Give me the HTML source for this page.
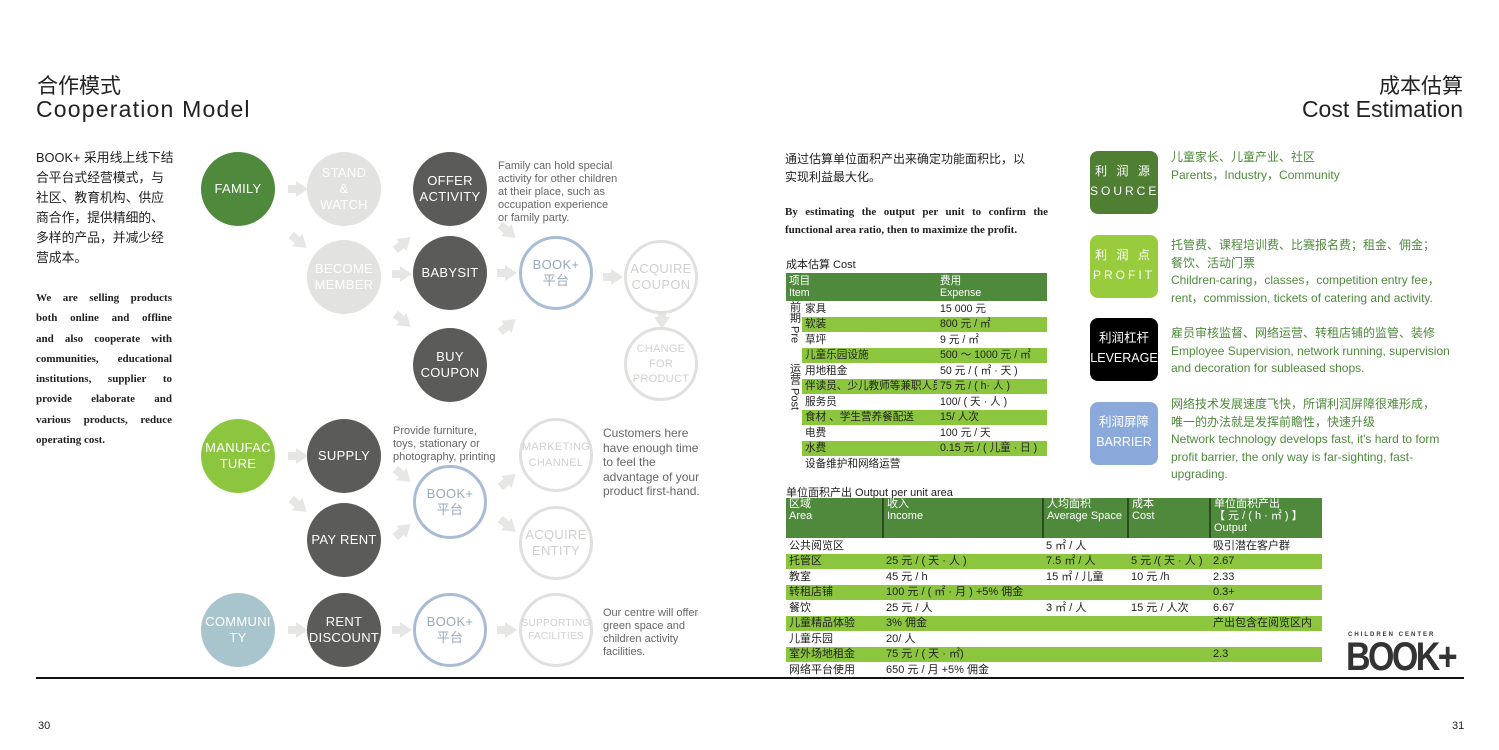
<!DOCTYPE html><html><head><meta charset="utf-8"><style>
*{margin:0;padding:0;box-sizing:border-box}
body{width:1499px;height:750px;background:#fff;position:relative;overflow:hidden;font-family:"Liberation Sans","Noto Sans CJK SC",sans-serif;color:#222}
.a{position:absolute}
.c{position:absolute;width:74px;height:74px;border-radius:50%;display:flex;align-items:center;justify-content:center;text-align:center;color:#fff;font-size:13px;line-height:16px;letter-spacing:.3px}
.dg{background:#5b5b59}.lg{background:#e2e2e0}.gr{background:#4f8a3c}.lgr{background:#8cc63f}.bl{background:#a8c4cc}
.bk{background:#fff;border:3px solid #a9bcd6;color:#9aa9bd}
.ol{background:#fff;border:3px solid #e0e0de;color:#d0d0ce}
.ar{position:absolute;width:0;height:0;border-top:8px solid transparent;border-bottom:8px solid transparent;border-left:12px solid #e6e6e4}
.ar:before{content:"";position:absolute;left:-20px;top:-4px;width:9px;height:8px;background:#e6e6e4}
.note{position:absolute;font-size:11px;line-height:13px;color:#666}
table{border-collapse:collapse;font-size:10.6px;table-layout:fixed}
td{padding:0 0 0 3px;height:15.5px;line-height:14px;vertical-align:middle;white-space:nowrap;overflow:hidden}
.g td.x{background:#8cc63f}
.h td{background:#4f8a3c;color:#fff;line-height:12px;vertical-align:top}
.bx{position:absolute;left:1090px;width:68px;height:63px;border-radius:8px;color:#fff;text-align:center;font-size:12px;line-height:20px;padding-top:10px;letter-spacing:1px;white-space:nowrap;overflow:hidden}
.tx{position:absolute;left:1171px;font-size:12px;line-height:17.5px;color:#4f8a3c}
.cn div{white-space:nowrap}
.en div{text-align:justify;text-align-last:justify;white-space:nowrap;height:20.3px}
.vt{writing-mode:vertical-rl;font-size:11px;line-height:15px;margin:0 auto;white-space:nowrap}
</style></head><body>
<div class="a" style="left:37px;top:70px;font-size:21px">合作模式</div>
<div class="a" style="left:36px;top:96px;font-size:23px;letter-spacing:1.2px">Cooperation Model</div>
<div class="a" style="right:36px;top:70px;font-size:21px">成本估算</div>
<div class="a" style="right:36px;top:96px;font-size:23px">Cost Estimation</div>
<div class="a cn" style="left:36px;top:148px;font-size:12.8px;line-height:20px"><div>BOOK+ 采用线上线下结</div><div>合平台式经营模式，与</div><div>社区、教育机构、供应</div><div>商合作，提供精细的、</div><div>多样的产品，并减少经</div><div>营成本。</div></div>
<div class="a en" style="left:36px;top:288px;width:136px;font-family:'Liberation Serif',serif;font-size:11px;line-height:20.3px;font-weight:bold"><div>We are selling products</div><div>both online and offline</div><div>and also cooperate with</div><div>communities, educational</div><div>institutions, supplier to</div><div>provide elaborate and</div><div>various products, reduce</div><div style="text-align-last:left">operating cost.</div></div>

<div class="ar" style="left:296px;top:181px"></div>
<div class="ar" style="left:296px;top:236px;transform:rotate(40deg)"></div>
<div class="ar" style="left:400px;top:233px;transform:rotate(-40deg)"></div>
<div class="ar" style="left:400px;top:266px"></div>
<div class="ar" style="left:400px;top:315px;transform:rotate(40deg)"></div>
<div class="ar" style="left:505px;top:226px;transform:rotate(40deg)"></div>
<div class="ar" style="left:505px;top:265px"></div>
<div class="ar" style="left:505px;top:315px;transform:rotate(-40deg)"></div>
<div class="ar" style="left:611px;top:269px"></div>
<div class="ar" style="left:656px;top:315px;transform:rotate(90deg)"></div>
<div class="ar" style="left:296px;top:448px"></div>
<div class="ar" style="left:296px;top:500px;transform:rotate(40deg)"></div>
<div class="ar" style="left:400px;top:470px;transform:rotate(40deg)"></div>
<div class="ar" style="left:400px;top:520px;transform:rotate(-40deg)"></div>
<div class="ar" style="left:505px;top:470px;transform:rotate(-40deg)"></div>
<div class="ar" style="left:505px;top:520px;transform:rotate(40deg)"></div>
<div class="ar" style="left:296px;top:622px"></div>
<div class="ar" style="left:400px;top:622px"></div>
<div class="ar" style="left:505px;top:622px"></div>

<div class="c gr" style="left:201px;top:152px">FAMILY</div>
<div class="c lg" style="left:307px;top:152px">STAND<br>&amp;<br>WATCH</div>
<div class="c dg" style="left:413px;top:152px">OFFER<br>ACTIVITY</div>
<div class="c lg" style="left:307px;top:240px">BECOME<br>MEMBER</div>
<div class="c dg" style="left:413px;top:236px">BABYSIT</div>
<div class="c bk" style="left:519px;top:236px">BOOK+<br>平台</div>
<div class="c ol" style="left:624px;top:240px">ACQUIRE<br>COUPON</div>
<div class="c dg" style="left:413px;top:328px">BUY<br>COUPON</div>
<div class="c ol" style="left:624px;top:327px;font-size:11px;line-height:15px">CHANGE<br>FOR<br>PRODUCT</div>
<div class="note" style="left:498px;top:160px">Family can hold special<br>activity for other children<br>at their place, such as<br>occupation experience<br>or family party.</div>

<div class="c lgr" style="left:201px;top:419px">MANUFAC<br>TURE</div>
<div class="c dg" style="left:307px;top:419px">SUPPLY</div>
<div class="note" style="left:393px;top:425px">Provide furniture,<br>toys, stationary or<br>photography, printing</div>
<div class="c ol" style="left:519px;top:418px;font-size:11px">MARKETING<br>CHANNEL</div>
<div class="note" style="left:603px;top:426px;font-size:12px;line-height:14.5px">Customers here<br>have enough time<br>to feel the<br>advantage of your<br>product first-hand.</div>
<div class="c bk" style="left:413px;top:465px">BOOK+<br>平台</div>
<div class="c dg" style="left:307px;top:503px">PAY RENT</div>
<div class="c ol" style="left:519px;top:506px">ACQUIRE<br>ENTITY</div>
<div class="c bl" style="left:201px;top:593px">COMMUNI<br>TY</div>
<div class="c dg" style="left:307px;top:593px">RENT<br>DISCOUNT</div>
<div class="c bk" style="left:413px;top:593px">BOOK+<br>平台</div>
<div class="c ol" style="left:519px;top:593px;font-size:10px;line-height:13px">SUPPORTING<br>FACILITIES</div>
<div class="note" style="left:603px;top:607px">Our centre will offer<br>green space and<br>children activity<br>facilities.</div>

<div class="a" style="left:785px;top:150px;font-size:12px;line-height:18px">通过估算单位面积产出来确定功能面积比，以<br>实现利益最大化。</div>
<div class="a" style="left:785px;top:203px;width:263px;font-family:'Liberation Serif',serif;font-size:11px;line-height:18px;font-weight:bold;text-align:justify">By estimating the output per unit to confirm the functional area ratio, then to maximize the profit.</div>
<div class="a" style="left:786px;top:256px;font-size:11px">成本估算 Cost</div>
<table class="a" style="left:786px;top:273px;width:261px">
<col style="width:16px"><col style="width:135px"><col style="width:110px">
<tr class="h"><td style="height:28px;padding-top:2px" colspan="2">项目<br>Item</td><td style="padding-top:2px">费用<br>Expense</td></tr>
<tr><td rowspan="4" style="padding:0;vertical-align:top"><div class="vt">前期 Pre</div></td><td>家具</td><td>15 000 元</td></tr>
<tr class="g"><td class="x">软装</td><td class="x">800 元 / ㎡</td></tr>
<tr><td>草坪</td><td>9 元 / ㎡</td></tr>
<tr class="g"><td class="x">儿童乐园设施</td><td class="x">500 ～ 1000 元 / ㎡</td></tr>
<tr><td rowspan="7" style="padding:0;vertical-align:top"><div class="vt">运营 Post</div></td><td>用地租金</td><td>50 元 / ( ㎡ · 天 )</td></tr>
<tr class="g"><td class="x">伴读员、少儿教师等兼职人员</td><td class="x">75 元 / ( h· 人 )</td></tr>
<tr><td>服务员</td><td>100/ ( 天 · 人 )</td></tr>
<tr class="g"><td class="x">食材 、学生营养餐配送</td><td class="x">15/ 人次</td></tr>
<tr><td>电费</td><td>100 元 / 天</td></tr>
<tr class="g"><td class="x">水费</td><td class="x">0.15 元 / ( 儿童 · 日 )</td></tr>
<tr><td>设备维护和网络运营</td><td></td></tr>
</table>
<div class="a" style="left:786px;top:484px;font-size:11px">单位面积产出 Output per unit area</div>
<table class="a" style="left:786px;top:498px;width:536px;font-size:11px">
<col style="width:97px"><col style="width:160px"><col style="width:85px"><col style="width:82px"><col>
<tr class="h"><td style="height:40px;border-right:2px solid #2d4a22">区域<br>Area</td><td style="border-right:2px solid #2d4a22">收入<br>Income</td><td style="border-right:2px solid #2d4a22">人均面积<br>Average Space</td><td style="border-right:2px solid #2d4a22">成本<br>Cost</td><td>单位面积产出<br>【 元 / ( h · ㎡ ) 】<br>Output</td></tr>
<tr><td>公共阅览区</td><td></td><td>5 ㎡ / 人</td><td></td><td>吸引潜在客户群</td></tr>
<tr class="g"><td class="x">托管区</td><td class="x">25 元 / ( 天 · 人 )</td><td class="x">7.5 ㎡ / 人</td><td class="x">5 元 /( 天 · 人 )</td><td class="x">2.67</td></tr>
<tr><td>教室</td><td>45 元 / h</td><td>15 ㎡ / 儿童</td><td>10 元 /h</td><td>2.33</td></tr>
<tr class="g"><td class="x">转租店铺</td><td class="x">100 元 / ( ㎡ · 月 ) +5% 佣金</td><td class="x"></td><td class="x"></td><td class="x">0.3+</td></tr>
<tr><td>餐饮</td><td>25 元 / 人</td><td>3 ㎡ / 人</td><td>15 元 / 人次</td><td>6.67</td></tr>
<tr class="g"><td class="x">儿童精品体验</td><td class="x">3% 佣金</td><td class="x"></td><td class="x"></td><td class="x">产出包含在阅览区内</td></tr>
<tr><td>儿童乐园</td><td>20/ 人</td><td></td><td></td><td></td></tr>
<tr class="g"><td class="x">室外场地租金</td><td class="x">75 元 / ( 天 · ㎡)</td><td class="x"></td><td class="x"></td><td class="x">2.3</td></tr>
<tr><td>网络平台使用</td><td>650 元 / 月 +5% 佣金</td><td></td><td></td><td></td></tr>
</table>

<div class="bx" style="top:151px;background:#4f7f33;letter-spacing:3px">利 润 源<br>SOURCE</div>
<div class="tx" style="top:149px">儿童家长、儿童产业、社区<br>Parents，Industry，Community</div>
<div class="bx" style="top:235px;background:#98cc3c;letter-spacing:3px">利 润 点<br>PROFIT</div>
<div class="tx" style="top:237px">托管费、课程培训费、比赛报名费；租金、佣金；<br>餐饮、活动门票<br>Children-caring，classes，competition entry fee，<br>rent，commission, tickets of catering and activity.</div>
<div class="bx" style="top:318px;background:#000;letter-spacing:0;font-size:12.5px">利润杠杆<br>LEVERAGE</div>
<div class="tx" style="top:325px">雇员审核监督、网络运营、转租店铺的监管、装修<br>Employee Supervision, network running, supervision<br>and decoration for subleased shops.</div>
<div class="bx" style="top:402px;background:#8ca9dc;letter-spacing:0;font-size:12.5px">利润屏障<br>BARRIER</div>
<div class="tx" style="top:396px">网络技术发展速度飞快，所谓利润屏障很难形成，<br>唯一的办法就是发挥前瞻性，快速升级<br>Network technology develops fast, it's hard to form<br>profit barrier, the only way is far-sighting, fast-<br>upgrading.</div>

<div class="a" style="left:1348px;top:632px;font-size:6px;letter-spacing:2px;font-weight:bold;color:#333">CHILDREN CENTER</div>
<div class="a" style="left:1346px;top:637px;font-size:40px;line-height:40px;font-weight:bold;color:#333;letter-spacing:-3px;transform:scaleX(.85);transform-origin:left">BOOK+</div>
<div class="a" style="left:36px;top:677px;width:1428px;height:2px;background:#111"></div>
<div class="a" style="left:38px;top:720px;font-size:11px">30</div>
<div class="a" style="left:1452px;top:720px;font-size:11px">31</div>
</body></html>
